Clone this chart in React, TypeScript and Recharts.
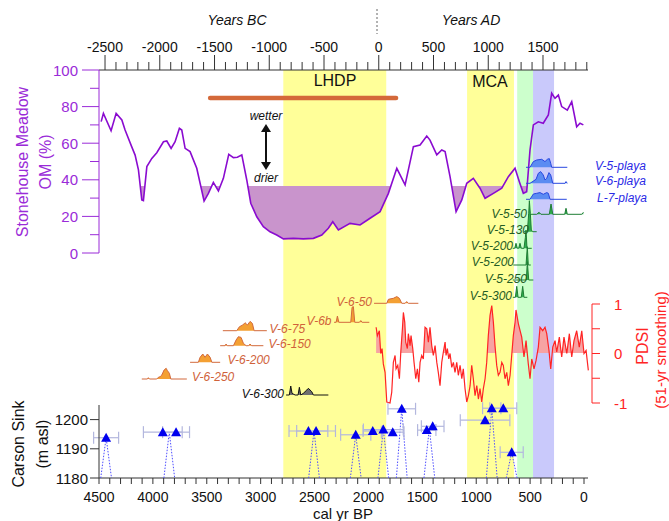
import React from "react";
import {
  ComposedChart,
  Line,
  Area,
  Scatter,
  ErrorBar,
  XAxis,
  YAxis,
  ReferenceArea,
  ReferenceLine,
} from "recharts";

const W = 669;
const H = 521;
const FONT = "'Liberation Sans', Arial, sans-serif";

// x axis: cal yr BP (reversed), top axis: calendar years
const BP_MIN = -37;
const BP_MAX = 4500;
const BP_MIN_PDSI = -74;
const YEAR_MIN = -2555;
const YEAR_MAX = 1911;

const bpLabels = [4500, 4000, 3500, 3000, 2500, 2000, 1500, 1000, 500, 0];
const yearLabels = [-2500, -2000, -1500, -1000, -500, 0, 500, 1000, 1500];
const omTicks = [0, 10, 20, 30, 40, 50, 60, 70, 80, 90, 100];
const pdsiTicks = [-1, -0.5, 0, 0.5, 1];
const carsonTicks = [1180, 1190, 1200];

const bpTicks: number[] = [];
for (let v = 4500; v >= 0; v -= 100) bpTicks.push(v);
const yearTicks: number[] = [];
for (let v = -2500; v <= 1900; v += 100) yearTicks.push(v);

// shaded periods: LHDP, MCA, green, blue
const bandFrom = [2790, 1085, 620, 473];
const bandTo = [1835, 650, 473, 278];

// Stonehouse Meadow organic matter
const OM_DRY = 36.6;
const omAge = [4480, 4459, 4388, 4341, 4288, 4258, 4196, 4165, 4134, 4103, 4088, 4056, 4010, 3964, 3902, 3871, 3831, 3794, 3754, 3732, 3701, 3655, 3593, 3525, 3485, 3439, 3392, 3346, 3296, 3253, 3216, 3175, 3129, 3092, 3036, 2975, 2913, 2851, 2789, 2697, 2604, 2511, 2433, 2372, 2331, 2279, 2171, 2078, 1985, 1892, 1815, 1737, 1660, 1583, 1521, 1459, 1429, 1366, 1320, 1289, 1243, 1187, 1134, 1088, 1027, 965, 918, 841, 763, 702, 640, 600, 563, 532, 501, 470, 424, 378, 331, 300, 269, 238, 207, 155, 114, 68, 37, 6];
const omPct = [71.8, 76.3, 66.8, 76.3, 72.7, 67.2, 58, 53.5, 45.4, 29, 28.6, 47.2, 51.7, 54.8, 60.8, 61.2, 57.2, 60.8, 68.1, 67.2, 57.2, 55.4, 46.3, 28.4, 32.6, 38.6, 33.9, 40.8, 53.9, 52.1, 52.3, 53.6, 39.9, 27.2, 19.8, 14.4, 11.6, 9.8, 7.7, 8.0, 7.7, 8, 9.8, 13.5, 17.1, 12.6, 16.2, 15.3, 19, 22.6, 32.6, 46.3, 37.2, 58.1, 59, 63.9, 61.7, 53.6, 56.3, 55.4, 41.7, 22.6, 29, 38.1, 40.8, 35.4, 29.9, 32.6, 35.4, 41.7, 46.3, 39, 32.6, 33.5, 56.3, 70, 71.7, 70.9, 75.4, 87.3, 84.5, 86.3, 80, 78.1, 82.7, 69, 70.9, 70];

// PDSI, 51-yr smoothing
const pdsiAge = [1929, 1917, 1899, 1886, 1874, 1862, 1846, 1830, 1800, 1784, 1769, 1753, 1744, 1728, 1713, 1700, 1685, 1676, 1663, 1654, 1639, 1630, 1614, 1605, 1589, 1577, 1561, 1546, 1533, 1521, 1506, 1491, 1475, 1459, 1444, 1429, 1413, 1398, 1382, 1366, 1352, 1336, 1320, 1305, 1289, 1280, 1268, 1255, 1243, 1227, 1212, 1197, 1181, 1166, 1150, 1134, 1120, 1104, 1088, 1073, 1057, 1042, 1027, 1011, 995, 980, 965, 949, 934, 918, 903, 888, 872, 856, 841, 826, 810, 795, 779, 763, 749, 733, 717, 702, 686, 671, 656, 640, 631, 609, 578, 557, 538, 517, 501, 485, 464, 445, 424, 408, 383, 362, 346, 325, 309, 290, 269, 253, 229, 207, 186, 160, 136, 114, 93, 68, 44, 21, 0, -19, -40];
const pdsiValue = [0.53, 0.36, 0.46, 0, 0.1, -0.21, -0.38, -0.98, -1.0, -0.78, -0.18, -0.04, -0.31, -0.24, -0.51, 0.03, 0.5, 0.83, 0.63, 0.23, 0.1, 0.4, 0.16, 0.36, 0.1, -0.18, -0.51, -0.31, -0.58, -0.18, -0.04, -0.11, 0.53, 0.5, 0.23, 0.53, 0.16, -0.04, 0.16, -0.18, -0.38, -0.65, -0.18, 0.03, 0.23, -0.04, 0.1, -0.11, 0, -0.28, -0.18, -0.38, -0.18, -0.44, -0.24, -0.51, -0.31, -0.71, -0.98, -0.85, -0.65, -0.24, -0.51, -0.85, -0.65, -0.92, -0.71, -0.98, -0.71, -0.51, -0.18, 0.36, 0.77, 0.97, 0.63, 0.16, -0.24, -0.44, -0.38, -0.18, -0.24, -0.51, -0.38, -0.65, -0.44, -0.04, 0.36, 0.63, 0.88, 0.6, 0.33, -0.07, 0.26, -0.21, -0.51, -0.11, -0.31, -0.14, 0.13, 0.53, 0.46, 0.53, 0.4, 0.06, -0.31, 0.13, 0.26, 0.03, 0.33, -0.07, 0.33, 0, 0.4, -0.07, 0.26, 0.46, 0.13, 0.46, 0, 0.06, -0.34];

// Carson Sink shoreline dates
const carsonAge = [4434, 3908, 3785, 2557, 2486, 2118, 1960, 1862, 1775, 1691, 1459, 1404, 918, 856, 749, 671];
const carsonElev = [1193.8, 1195.7, 1195.7, 1196.1, 1196.1, 1194.8, 1196.1, 1196.6, 1195.7, 1203.7, 1196.4, 1197.7, 1199.8, 1203.9, 1203.9, 1188.8];
const carsonErr = [116, 180, 125, 180, 180, 140, 90, 185, 105, 128, 85, 105, 230, 85, 125, 107];
const spikeAge = [4434, 3848, 2505, 2118, 1862, 1691, 1435, 856, 671];
const spikeElev = [1193.8, 1195.7, 1196.1, 1194.8, 1196.6, 1203.7, 1197, 1203.9, 1188.8];

// age distributions [cal yr BP, relative density]
const v5Playa = [[538, 0], [501, 0], [470, 5.7], [439, 7.3], [392, 8], [362, 5.7], [340, 8], [322, 8.7], [309, 4], [300, 0], [155, 0]];
const v6Playa = [[538, 0], [501, 0], [445, 4], [424, 10], [402, 11.7], [378, 8.3], [362, 3.3], [346, 5], [325, 10.7], [309, 8.3], [290, 0], [176, 0], [167, 1.7], [155, 0]];
const l7Playa = [[538, 0], [501, 0], [470, 5.3], [439, 6], [408, 6.7], [378, 5], [346, 6.7], [331, 6], [315, 0], [160, 0]];
const v5_50 = [[517, 0], [439, 0], [417, 2], [399, 0], [322, 0], [306, 10.3], [290, 0], [179, 0], [167, 6], [155, 0], [21, 0], [6, 2]];
const v5_130 = [[557, 0], [526, 0], [513, 18.3], [507, 31], [498, 18.3], [489, 1.7], [476, 0], [439, 0]];
const v5_200a = [[661, 0], [643, 0], [631, 5], [619, 0], [606, 0], [594, 5], [582, 0], [557, 0], [544, 11], [538, 18.3], [529, 0], [485, 0]];
const v5_200b = [[656, 0], [538, 0], [526, 18.3], [517, 0], [494, 0]];
const v5_250 = [[661, 0], [535, 0], [526, 18.3], [513, 0], [470, 0]];
const v5_300 = [[661, 0], [637, 0], [624, 11], [612, 0], [582, 0], [569, 11], [557, 0], [526, 0]];
const v6_50 = [[1948, 0], [1830, 0], [1815, 4], [1769, 5], [1737, 6.7], [1713, 5], [1691, 0], [1660, 0], [1645, 1.7], [1630, 0], [1537, 0]];
const v6b = [[2319, 0], [2300, 0], [2288, 6.3], [2275, 0], [2164, 0], [2152, 15], [2140, 15.7], [2127, 0], [2084, 0], [2071, 1.7], [2059, 0], [1992, 0]];
const v6_75 = [[3351, 0], [3222, 0], [3197, 4], [3166, 5.7], [3145, 8], [3123, 5.7], [3098, 9.3], [3077, 7.3], [3061, 0], [2943, 0]];
const v6_150 = [[3376, 0], [3330, 0], [3321, 1.7], [3311, 0], [3253, 0], [3228, 5.7], [3207, 9], [3182, 8.3], [3160, 2.3], [3135, 0], [3112, 0], [3098, 1.7], [3084, 0], [2975, 0]];
const v6_200 = [[3655, 0], [3578, 0], [3562, 5], [3537, 8.3], [3516, 5], [3494, 8.3], [3469, 5], [3453, 0], [3376, 0]];
const v6_250 = [[4103, 0], [4051, 0], [4042, 1.3], [4032, 0], [3964, 0], [3949, 1.7], [3933, 2.3], [3917, 4], [3896, 9], [3877, 10.7], [3865, 8.3], [3847, 5.7], [3834, 0], [3685, 0]];
const v6_300 = [[2764, 0], [2734, 0], [2721, 9], [2709, 1.7], [2697, 1], [2681, 0], [2653, 0], [2641, 7.7], [2628, 0], [2604, 1.7], [2572, 5], [2557, 6.7], [2542, 5], [2526, 3.3], [2511, 0], [2372, 0]];

const STYLE: Record<string, { fill: string; stroke: string; text: string }> = {
  playa: { fill: "#5b8cf2", stroke: "#2848e0", text: "#2a2ae6" },
  green: { fill: "#2fae4e", stroke: "#1f7d35", text: "#245c24" },
  orange: { fill: "#f4a033", stroke: "#d2693c", text: "#d0623a" },
  black: { fill: "#707070", stroke: "#111111", text: "#111111" },
};

// layout of the stacked distributions (base in px above y=400)
const rows = [
  { name: "V-5-playa", pts: v5Playa, base: 232.7, kind: "playa", lx: 595, ly: 165.5, anchor: "start" },
  { name: "V-6-playa", pts: v6Playa, base: 216.7, kind: "playa", lx: 595, ly: 181, anchor: "start" },
  { name: "L-7-playa", pts: l7Playa, base: 200.7, kind: "playa", lx: 597, ly: 197.5, anchor: "start" },
  { name: "V-5-50", pts: v5_50, base: 185.7, kind: "green", lx: 527, ly: 213.5, anchor: "end" },
  { name: "V-5-130", pts: v5_130, base: 168.3, kind: "green", lx: 529, ly: 230, anchor: "end" },
  { name: "V-5-200", pts: v5_200a, base: 151.7, kind: "green", lx: 513, ly: 246, anchor: "end" },
  { name: "V-5-200", pts: v5_200b, base: 135, kind: "green", lx: 514, ly: 262, anchor: "end" },
  { name: "V-5-250", pts: v5_250, base: 120, kind: "green", lx: 527, ly: 278.5, anchor: "end" },
  { name: "V-5-300", pts: v5_300, base: 102.7, kind: "green", lx: 512, ly: 295.5, anchor: "end" },
  { name: "V-6-50", pts: v6_50, base: 96.7, kind: "orange", lx: 372, ly: 301.5, anchor: "end" },
  { name: "V-6b", pts: v6b, base: 77.7, kind: "orange", lx: 331.5, ly: 320.5, anchor: "end" },
  { name: "V-6-75", pts: v6_75, base: 69.3, kind: "orange", lx: 269.5, ly: 328.5, anchor: "start" },
  { name: "V-6-150", pts: v6_150, base: 54.3, kind: "orange", lx: 268.5, ly: 343.5, anchor: "start" },
  { name: "V-6-200", pts: v6_200, base: 37.7, kind: "orange", lx: 227.5, ly: 360, anchor: "start" },
  { name: "V-6-250", pts: v6_250, base: 21, kind: "orange", lx: 192, ly: 377, anchor: "start" },
  { name: "V-6-300", pts: v6_300, base: 5, kind: "black", lx: 284, ly: 393.5, anchor: "end" },
];

const omData = omAge.map((bp, i) => ({ bp, om: omPct[i] }));
const pdsiData = pdsiAge.map((bp, i) => ({ bp, pdsi: pdsiValue[i] }));
const carsonData = carsonAge.map((bp, i) => ({ bp, elev: carsonElev[i], err: carsonErr[i] }));
const spikeData = spikeAge.map((bp, i) => [
  { bp: bp + 50, elev: 1180 },
  { bp, elev: spikeElev[i] },
  { bp: bp - 50, elev: 1180 },
]);
// invisible anchors so the shared axes carry data
const bpAnchor = bpLabels.map((bp) => ({ bp, y: 0.5 }));
const yearAnchor = yearLabels.map((year) => ({ year, y: 0.5 }));

const AXIS = "#333";
const PURPLE = "#9a2bd8";
const RED = "#ff2424";
const BAND_COLORS = ["#ffff99", "#ffff99", "#ccffcc", "#c9c9fb"];

const layer: React.CSSProperties = { position: "absolute", left: 0, top: 0 };

function BpTick(props: any) {
  const { x, y, payload } = props;
  const major = bpLabels.includes(payload.value);
  return (
    <g>
      <line x1={x} x2={x} y1={y} y2={y + 6} stroke={AXIS} />
      {major && (
        <text x={x} y={y + 19} textAnchor="middle" dominantBaseline="central" fontSize={14} fill="#111" fontFamily={FONT}>
          {payload.value}
        </text>
      )}
    </g>
  );
}

function YearTick(props: any) {
  const { x, y, payload } = props;
  const major = yearLabels.includes(payload.value);
  return (
    <g>
      <line x1={x} x2={x} y1={y} y2={y - (major ? 15 : 8)} stroke={AXIS} />
      {major && (
        <text x={x} y={y - 23} textAnchor="middle" dominantBaseline="central" fontSize={14} fill="#111" fontFamily={FONT}>
          {payload.value}
        </text>
      )}
    </g>
  );
}

function OmTick(props: any) {
  const { x, y, payload } = props;
  const major = payload.value % 20 === 0;
  return (
    <g>
      <line x1={x - (major ? 17 : 9)} x2={x} y1={y} y2={y} stroke={PURPLE} />
      {major && (
        <text x={x - 21} y={y} textAnchor="end" dominantBaseline="central" fontSize={15} fill={PURPLE} fontFamily={FONT}>
          {payload.value}
        </text>
      )}
    </g>
  );
}

function CarsonTick(props: any) {
  const { x, y, payload } = props;
  return (
    <g>
      <line x1={x - 9} x2={x} y1={y} y2={y} stroke={AXIS} />
      <text x={x - 11} y={y} textAnchor="end" dominantBaseline="central" fontSize={15} fill="#111" fontFamily={FONT}>
        {payload.value}
      </text>
    </g>
  );
}

function PdsiTick(props: any) {
  const { x, y, payload } = props;
  const major = Number.isInteger(payload.value);
  return (
    <g>
      <line x1={x} x2={x + 8} y1={y} y2={y} stroke={RED} />
      {major && (
        <text x={x + 22} y={y} textAnchor="start" dominantBaseline="central" fontSize={15} fill={RED} fontFamily={FONT}>
          {payload.value}
        </text>
      )}
    </g>
  );
}

function Triangle(props: any) {
  const { cx, cy } = props;
  return <polygon points={`${cx - 5},${cy + 4} ${cx + 5},${cy + 4} ${cx},${cy - 5}`} fill="#0000ee" />;
}

const hiddenX = (domainMin: number) => (
  <XAxis xAxisId="bp" hide type="number" dataKey="bp" domain={[domainMin, BP_MAX]} reversed allowDataOverflow />
);

export default function App() {
  return (
    <div style={{ position: "absolute", left: 0, top: 0, width: W, height: H, background: "#fff", fontFamily: FONT }}>
      {/* bands and shared bottom axis */}
      <div style={layer}>
        <ComposedChart width={W} height={H} margin={{ top: 70, right: 81, bottom: 0, left: 99 }}>
          <XAxis
            xAxisId="bp"
            type="number"
            dataKey="bp"
            domain={[BP_MIN, BP_MAX]}
            reversed
            ticks={bpTicks}
            interval={0}
            tick={BpTick}
            tickLine={false}
            tickSize={0}
            tickMargin={0}
            axisLine={{ stroke: AXIS }}
            height={43}
            allowDataOverflow
          />
          <YAxis yAxisId="bg" hide type="number" domain={[0, 1]} allowDataOverflow />
          {bandFrom.map((from, i) => (
            <ReferenceArea
              key={i}
              xAxisId="bp"
              yAxisId="bg"
              x1={from}
              x2={bandTo[i]}
              y1={0}
              y2={1}
              fill={BAND_COLORS[i]}
              fillOpacity={1}
              stroke="none"
              ifOverflow="visible"
            />
          ))}
          <Line data={bpAnchor} xAxisId="bp" yAxisId="bg" dataKey="y" stroke="none" dot={false} activeDot={false} isAnimationActive={false} />
        </ComposedChart>
      </div>

      {/* top calendar-year axis */}
      <div style={layer}>
        <ComposedChart width={W} height={H} margin={{ top: 0, right: 81, bottom: 268, left: 99 }}>
          <XAxis
            xAxisId="yr"
            orientation="top"
            type="number"
            dataKey="year"
            domain={[YEAR_MIN, YEAR_MAX]}
            ticks={yearTicks}
            interval={0}
            tick={YearTick}
            tickLine={false}
            tickSize={0}
            tickMargin={0}
            axisLine={{ stroke: AXIS }}
            height={70}
            allowDataOverflow
          />
          <YAxis yAxisId="yy" hide type="number" domain={[0, 1]} allowDataOverflow />
          <Line data={yearAnchor} xAxisId="yr" yAxisId="yy" dataKey="y" stroke="none" dot={false} activeDot={false} isAnimationActive={false} />
        </ComposedChart>
      </div>

      {/* OM fill below the dry threshold */}
      <div style={layer}>
        <ComposedChart width={W} height={H} margin={{ top: 186, right: 81, bottom: 268, left: 99 }}>
          {hiddenX(BP_MIN)}
          <YAxis hide domain={[0, OM_DRY]} allowDataOverflow />
          <Area data={omData} xAxisId="bp" dataKey="om" type="linear" baseValue={OM_DRY} fill="#c994cc" fillOpacity={1} stroke="none" isAnimationActive={false} dot={false} activeDot={false} />
        </ComposedChart>
      </div>

      {/* OM curve */}
      <div style={layer}>
        <ComposedChart width={W} height={H} margin={{ top: 70, right: 81, bottom: 268, left: 0 }}>
          {hiddenX(BP_MIN)}
          <YAxis
            yAxisId="om"
            width={99}
            domain={[0, 100]}
            ticks={omTicks}
            interval={0}
            tick={OmTick}
            tickLine={false}
            tickSize={0}
            tickMargin={0}
            axisLine={{ stroke: PURPLE }}
          />
          <Line data={omData} xAxisId="bp" yAxisId="om" dataKey="om" type="linear" stroke="#8a0bd0" strokeWidth={1.6} dot={false} activeDot={false} isAnimationActive={false} />
          <ReferenceLine
            xAxisId="bp"
            yAxisId="om"
            segment={[{ x: 3469, y: 84.7 }, { x: 1744, y: 84.7 }]}
            stroke="#d4693a"
            strokeWidth={4.5}
            strokeLinecap="round"
          />
        </ComposedChart>
      </div>

      {/* stacked age distributions */}
      <div style={layer}>
        <ComposedChart width={W} height={H} margin={{ top: 150, right: 81, bottom: 121, left: 99 }}>
          {hiddenX(BP_MIN)}
          <YAxis hide domain={[0, 250]} allowDataOverflow />
          {rows.map((r, i) => (
            <Area
              key={i}
              data={r.pts.map(([bp, h]) => ({ bp, v: r.base + h }))}
              xAxisId="bp"
              dataKey="v"
              type="linear"
              baseValue={r.base}
              fill={STYLE[r.kind].fill}
              fillOpacity={1}
              stroke={STYLE[r.kind].stroke}
              strokeWidth={1}
              dot={false}
              activeDot={false}
              isAnimationActive={false}
            />
          ))}
        </ComposedChart>
      </div>

      {/* PDSI positive fill */}
      <div style={layer}>
        <ComposedChart width={W} height={H} margin={{ top: 304, right: 77, bottom: 168, left: 99 }}>
          {hiddenX(BP_MIN_PDSI)}
          <YAxis hide domain={[0, 1]} allowDataOverflow />
          <Area data={pdsiData} xAxisId="bp" dataKey="pdsi" type="linear" baseValue={0} fill="#f7a3a3" fillOpacity={1} stroke="none" dot={false} activeDot={false} isAnimationActive={false} />
        </ComposedChart>
      </div>

      {/* PDSI curve */}
      <div style={layer}>
        <ComposedChart width={W} height={H} margin={{ top: 304, right: 0, bottom: 118, left: 99 }}>
          {hiddenX(BP_MIN_PDSI)}
          <YAxis
            yAxisId="pdsi"
            orientation="right"
            width={77}
            domain={[-1, 1]}
            ticks={pdsiTicks}
            interval={0}
            tick={PdsiTick}
            tickLine={false}
            tickSize={0}
            tickMargin={0}
            axisLine={{ stroke: RED }}
          />
          <Line data={pdsiData} xAxisId="bp" yAxisId="pdsi" dataKey="pdsi" type="linear" stroke={RED} strokeWidth={1.2} dot={false} activeDot={false} isAnimationActive={false} />
        </ComposedChart>
      </div>

      {/* Carson Sink */}
      <div style={layer}>
        <ComposedChart width={W} height={H} margin={{ top: 405, right: 81, bottom: 43, left: 0 }}>
          {hiddenX(BP_MIN)}
          <YAxis
            yAxisId="cs"
            dataKey="elev"
            width={99}
            domain={[1180, 1205]}
            ticks={carsonTicks}
            interval={0}
            tick={CarsonTick}
            tickLine={false}
            tickSize={0}
            tickMargin={0}
            axisLine={{ stroke: AXIS }}
          />
          {spikeData.map((d, i) => (
            <Line key={i} data={d} xAxisId="bp" yAxisId="cs" dataKey="elev" type="linear" stroke="#4d4dff" strokeWidth={1} strokeDasharray="1.5 1.5" dot={false} activeDot={false} isAnimationActive={false} />
          ))}
          <Scatter data={carsonData} xAxisId="bp" yAxisId="cs" dataKey="elev" shape={Triangle} isAnimationActive={false}>
            <ErrorBar dataKey="err" direction="x" width={6} stroke="#b3b7de" strokeWidth={1.2} />
          </Scatter>
        </ComposedChart>
      </div>

      {/* annotations */}
      <svg style={layer} width={W} height={H} fontFamily={FONT}>
        <text x={237} y={20} textAnchor="middle" dominantBaseline="central" fontSize={14} fontStyle="italic" fill="#111">Years BC</text>
        <text x={471} y={20} textAnchor="middle" dominantBaseline="central" fontSize={14} fontStyle="italic" fill="#111">Years AD</text>
        <line x1={377} x2={377} y1={9} y2={34} stroke="#666" strokeDasharray="2 2" />
        <text x={335} y={80} textAnchor="middle" dominantBaseline="central" fontSize={16} fill="#111">LHDP</text>
        <text x={490} y={81} textAnchor="middle" dominantBaseline="central" fontSize={16} fill="#111">MCA</text>
        <text x={266} y={116} textAnchor="middle" dominantBaseline="central" fontSize={12} fontStyle="italic" fill="#111">wetter</text>
        <text x={266} y={178} textAnchor="middle" dominantBaseline="central" fontSize={12} fontStyle="italic" fill="#111">drier</text>
        <line x1={266} x2={266} y1={129} y2={165} stroke="#111" strokeWidth={2} />
        <polygon points="261,132 271,132 266,124" fill="#111" />
        <polygon points="261,162 271,162 266,170" fill="#111" />
        <text transform="rotate(-90 22 162)" x={22} y={162} textAnchor="middle" dominantBaseline="central" fontSize={16} fill={PURPLE}>Stonehouse Meadow</text>
        <text transform="rotate(-90 45 162)" x={45} y={162} textAnchor="middle" dominantBaseline="central" fontSize={16} fill={PURPLE}>OM (%)</text>
        <text transform="rotate(-90 18 444)" x={18} y={444} textAnchor="middle" dominantBaseline="central" fontSize={16} fill="#111">Carson Sink</text>
        <text transform="rotate(-90 42 444)" x={42} y={444} textAnchor="middle" dominantBaseline="central" fontSize={16} fill="#111">(m asl)</text>
        <text transform="rotate(-90 642 346)" x={642} y={346} textAnchor="middle" dominantBaseline="central" fontSize={16} fill={RED}>PDSI</text>
        <text transform="rotate(-90 660 350)" x={660} y={350} textAnchor="middle" dominantBaseline="central" fontSize={15} fill={RED}>(51-yr smoothing)</text>
        <text x={343} y={513} textAnchor="middle" dominantBaseline="central" fontSize={15} fill="#111">cal yr BP</text>
        {rows.map((r, i) => (
          <text
            key={i}
            x={r.lx}
            y={r.ly}
            textAnchor={r.anchor as any}
            dominantBaseline="central"
            fontSize={12}
            fontStyle="italic"
            fill={STYLE[r.kind].text}
          >
            {r.name}
          </text>
        ))}
      </svg>
    </div>
  );
}
